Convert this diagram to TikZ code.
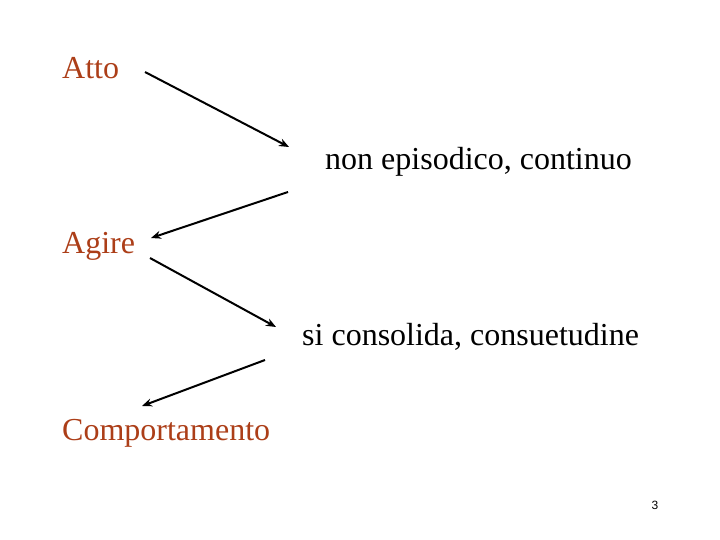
\documentclass[tikz,border=0pt]{standalone}
\usepackage{fontspec}
\setmainfont{Liberation Serif}
\newfontfamily\numfont{Liberation Sans}
\usetikzlibrary{arrows.meta,positioning}
\definecolor{termred}{RGB}{172,62,24}
\tikzset{
term/.style = {anchor=base west, inner sep=0pt, text=termred,
font=\fontsize{32}{38}\selectfont},% parola
gloss/.style = {anchor=base west, inner sep=0pt, text=black,
font=\fontsize{32}{38}\selectfont},% spiegazione
step_arrow/.style = {draw=black, line width=2pt, -{Stealth[length=10pt,width=8pt]}}
}
\begin{document}
\begin{tikzpicture}[x=1pt,y=-1pt]
	\useasboundingbox (0,0) rectangle (720,540);
	\node [term] (atto) at (62,79) {Atto};
	\node [gloss] (nonep) at (325,170) {non episodico, continuo};
	\node [term] (agire) at (62,253) {Agire};
	\node [gloss] (cons) at (302,345) {si consolida, consuetudine};
	\node [term] (comp) at (62,440) {Comportamento};
	\node [anchor=base, inner sep=0pt, font=\numfont\fontsize{12}{14}\selectfont] (pnum) at (655,509) {3};
	% estremi delle frecce
	\coordinate (a1) at (145,72);
	\coordinate (b1) at (289,147);
	\coordinate (a2) at (288,192);
	\coordinate (b2) at (151,238);
	\coordinate (a3) at (150,258);
	\coordinate (b3) at (276,327);
	\coordinate (a4) at (265,360);
	\coordinate (b4) at (142,406);
	\draw [step_arrow] (a1) -- (b1);
	\draw [step_arrow] (a2) -- (b2);
	\draw [step_arrow] (a3) -- (b3);
	\draw [step_arrow] (a4) -- (b4);
\end{tikzpicture}
\end{document}
